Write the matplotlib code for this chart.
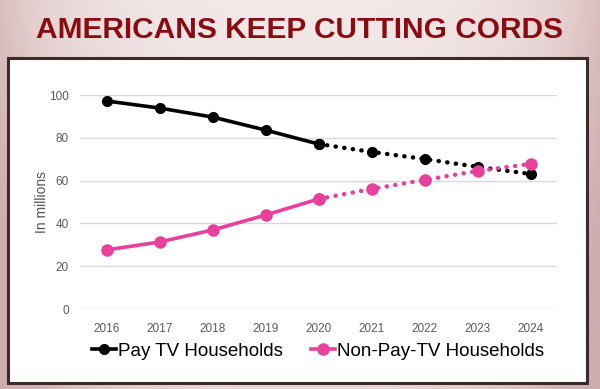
import matplotlib.pyplot as plt
import numpy as np
from matplotlib.patches import Rectangle
from matplotlib.lines import Line2D
from matplotlib.colors import LinearSegmentedColormap

years = [2016, 2017, 2018, 2019, 2020, 2021, 2022, 2023, 2024]
pay_tv = [97.2, 93.9, 89.7, 83.6, 77.1, 73.4, 70.1, 66.4, 63.1]
non_pay_tv = [27.6, 31.3, 36.9, 43.9, 51.4, 56.1, 60.3, 64.5, 67.8]
split = 4  # index of 2020: actual up to here, projected after

black = '#000000'
pink = '#e8409c'
dots = (0, (0.05, 1.9))

plt.rcParams['font.family'] = ['Liberation Sans', 'DejaVu Sans']

fig = plt.figure(figsize=(6, 3.89), dpi=100)

# pinkish background, lighter at the top, darker toward the sides
bg = fig.add_axes([0, 0, 1, 1], zorder=-10)
cmap = LinearSegmentedColormap.from_list('bgpink', ['#f3e9e9', '#e6d2d2', '#cfaeb0'])
gx = np.linspace(-1, 1, 300)
gy = np.linspace(0, 1, 200)
X, Y = np.meshgrid(gx, gy)
shade = np.clip(0.75 * np.abs(X) ** 3 + 0.45 * Y, 0, 1)
bg.imshow(shade, cmap=cmap, vmin=0, vmax=1, aspect='auto',
          extent=[0, 1, 0, 1], origin='upper')
bg.set_xlim(0, 1)
bg.set_ylim(0, 1)
bg.axis('off')

# white frame with dark border
bg.add_patch(Rectangle((8 / 600, 1 - 383 / 389), 579 / 600, 325 / 389,
                       facecolor='white', edgecolor='#3b2b2b', linewidth=2.2))

fig.text(0.5, 1 - 30 / 389, 'AMERICANS KEEP CUTTING CORDS',
         ha='center', va='center', color='#8a0c10', fontsize=21.5,
         fontweight='bold', family=['Liberation Sans Narrow', 'Liberation Sans', 'DejaVu Sans'])

ax = fig.add_axes([80 / 600, 1 - 309 / 389, 477 / 600, 214 / 389])
ax.set_facecolor('none')

ax.plot(years[:split + 1], pay_tv[:split + 1], color=black, lw=2.6,
        marker='o', ms=7, solid_capstyle='round', clip_on=False, zorder=3)
ax.plot(years[split:], pay_tv[split:], color=black, lw=3.2, ls=dots,
        dash_capstyle='round', marker='o', ms=7, clip_on=False, zorder=3)
ax.plot(years[:split + 1], non_pay_tv[:split + 1], color=pink, lw=2.6,
        marker='o', ms=8, solid_capstyle='round', clip_on=False, zorder=3)
ax.plot(years[split:], non_pay_tv[split:], color=pink, lw=3.2, ls=dots,
        dash_capstyle='round', marker='o', ms=8, clip_on=False, zorder=4)

ax.set_xlim(2015.5, 2024.5)
ax.set_ylim(0, 100)
ax.set_yticks(range(0, 101, 20))
ax.set_xticks(years)
ax.grid(axis='y', color='#d9d9d9', lw=1)
ax.set_axisbelow(True)
for s in ax.spines.values():
    s.set_visible(False)
ax.tick_params(length=0, labelsize=8.5, labelcolor='#5a5a5a', pad=8)
ax.tick_params(axis='x', pad=10)
ax.set_ylabel('In millions', fontsize=10, color='#555555', labelpad=0)

handles = [
    Line2D([], [], color=black, lw=2.6, marker='o', ms=7),
    Line2D([], [], color=pink, lw=2.6, marker='o', ms=8),
]
fig.legend(handles, ['Pay TV Households', 'Non-Pay-TV Households'],
           loc='center', bbox_to_anchor=(0.53, 1 - 351 / 389), ncol=2,
           frameon=False, fontsize=13.5, handlelength=1.3, handletextpad=0.1,
           columnspacing=1.5)

fig.savefig('out.png', dpi=100)
